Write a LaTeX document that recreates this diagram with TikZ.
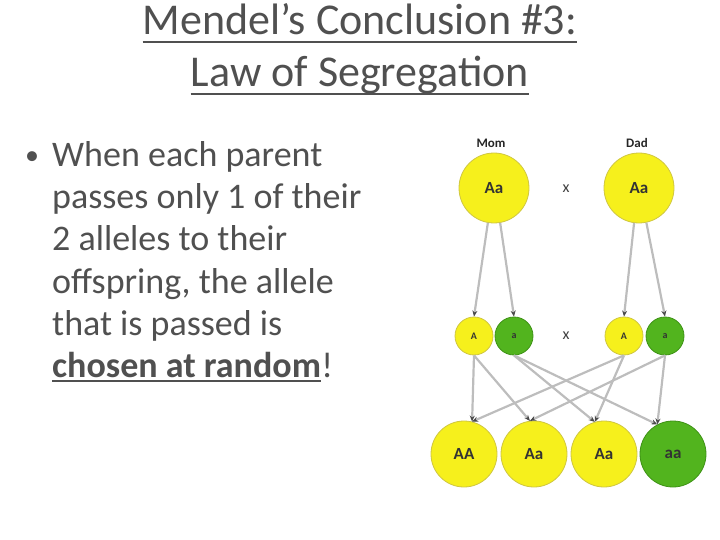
\documentclass[tikz,border=0pt]{standalone}
\usepackage{fontspec}
\setmainfont{Carlito}
\usetikzlibrary{arrows.meta}

\definecolor{textgray}{HTML}{505050}
\definecolor{geneyellow}{HTML}{F6F01C}
\definecolor{yellowrim}{HTML}{CFC640}
\definecolor{genegreen}{HTML}{52B41E}
\definecolor{greenrim}{HTML}{3E9216}
\definecolor{linkgray}{HTML}{BDBDBD}
\definecolor{tipgray}{HTML}{4A4A4A}

\begin{document}
\begin{tikzpicture}[x=1pt, y=-1pt,
    title/.style={inner sep=0pt, text=textgray, font=\fontsize{44}{44}\selectfont},
    body/.style={inner sep=0pt, text=textgray, font=\fontsize{36}{42}\selectfont},
    dom/.style={circle, draw=yellowrim, fill=geneyellow, line width=0.8pt, inner sep=0pt, text=black!80},
    rec/.style={circle, draw=greenrim, fill=genegreen, line width=0.8pt, inner sep=0pt, text=black!80},
    parent/.style={minimum size=70pt, font=\fontsize{17}{17}\selectfont\bfseries},
    gamete/.style={minimum size=38pt, font=\fontsize{10}{10}\selectfont\bfseries},
    child/.style={minimum size=66pt, font=\fontsize{17}{17}\selectfont\bfseries},
    who/.style={text=black!85, font=\fontsize{13}{13}\selectfont\bfseries},
    cross/.style={text=black!75, font=\fontsize{16}{16}\selectfont},
    pass/.style={draw=linkgray, line width=2.2pt, -{Stealth[length=6pt, width=5pt, color=tipgray]}}
]
    \useasboundingbox (0,0) rectangle (720,540);

    % Titel
    \node[title, anchor=base] (head1) at (360,35) {Mendel’s Conclusion \#3:};
    \node[title, anchor=base] (head2) at (360,87) {Law of Segregation};
    \draw[textgray, line width=1.6pt] ([yshift=-7pt]head1.base west) -- ([yshift=-7pt]head1.base east);
    \draw[textgray, line width=1.6pt] ([yshift=-7pt]head2.base west) -- ([yshift=-7pt]head2.base east);

    % Aufzaehlung
    \node[body, anchor=base, font=\fontsize{28}{28}\selectfont] (dot) at (32,165) {•};
    \node[body, anchor=base west] (line1) at (52,167) {When each parent};
    \node[body, anchor=base west] (line2) at (52,209) {passes only 1 of their};
    \node[body, anchor=base west] (line3) at (52,251) {2 alleles to their};
    \node[body, anchor=base west] (line4) at (52,293) {offspring, the allele};
    \node[body, anchor=base west] (line5) at (52,335) {that is passed is};
    \node[body, anchor=base west, font=\fontsize{36}{42}\selectfont\bfseries] (line6) at (52,377) {chosen at random};
    \node[body, anchor=base west] (bang) at (line6.base east) {!};
    \draw[textgray, line width=1.4pt] ([yshift=-4pt]line6.base west) -- ([yshift=-4pt]line6.base east);

    % Eltern
    \node[who] (momlbl) at (491,143) {Mom};
    \node[who] (dadlbl) at (637,143) {Dad};
    \node[dom, parent] (mom) at (494,188) {Aa};
    \node[dom, parent] (dad) at (639,188) {Aa};
    \node[cross] (x1) at (566,189) {x};

    % Gameten
    \node[dom, gamete] (mA) at (474,336) {A};
    \node[rec, gamete] (ma) at (514,336) {a};
    \node[dom, gamete] (dA) at (624,336) {A};
    \node[rec, gamete] (da) at (665,336) {a};
    \node[cross] (x2) at (566,336) {x};

    % Nachkommen
    \node[dom, child] (AA) at (464,454) {AA};
    \node[dom, child] (Aa1) at (534,454) {Aa};
    \node[dom, child] (Aa2) at (604,454) {Aa};
    \node[rec, child] (aa) at (673,454) {aa};

    % Pfeile
    \draw[pass] (mom.260) -- (mA.north);
    \draw[pass] (mom.280) -- (ma.north);
    \draw[pass] (dad.262) -- (dA.north);
    \draw[pass] (dad.282) -- (da.north);

    \draw[pass] (mA.south) -- (AA.76);
    \draw[pass] (mA.south) -- (Aa1.97);
    \draw[pass] (ma.south) -- (Aa2.106);
    \draw[pass] (ma.south) -- (aa.118);
    \draw[pass] (dA.south) -- (AA.76);
    \draw[pass] (dA.south) -- (Aa2.106);
    \draw[pass] (da.south) -- (Aa1.97);
    \draw[pass] (da.south) -- (aa.118);
\end{tikzpicture}
\end{document}
